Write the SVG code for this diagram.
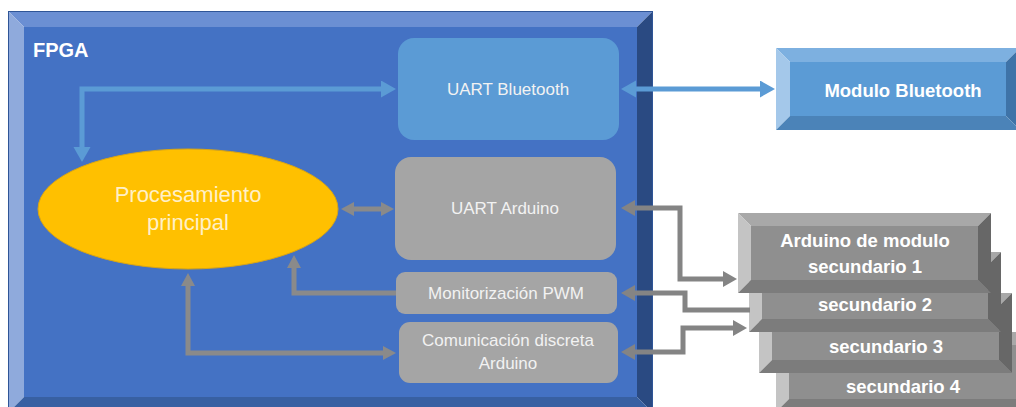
<svg xmlns="http://www.w3.org/2000/svg" width="1016" height="407" viewBox="0 0 1016 407">
<style>
  text { font-family: "Liberation Sans", Arial, sans-serif; }
  .lbl { fill: #F2F2F2; font-size: 17px; text-anchor: middle; }
  .bold { font-weight: bold; fill: #FFFFFF; text-anchor: middle; }
  .gT { fill: #A8A8A8; } .gL { fill: #C4C4C4; } .gR { fill: #676767; } .gB { fill: #7C7C7C; } .gF { fill: #8F8F8F; }
  .blueLine { fill: none; stroke: #5B9BD5; stroke-width: 5; }
  .grayLine { fill: none; stroke: #8A8A8A; stroke-width: 5; }
  .grayLine2 { fill: none; stroke: #848484; stroke-width: 5; }
</style>
<defs>
  <marker id="mBlue" markerUnits="userSpaceOnUse" markerWidth="17" markerHeight="18" refX="1" refY="8.5" orient="auto-start-reverse">
    <path d="M0,0 L15,8.5 L0,17 z" fill="#5B9BD5"/>
  </marker>
  <marker id="mGray" markerUnits="userSpaceOnUse" markerWidth="15" markerHeight="15" refX="1" refY="7" orient="auto-start-reverse">
    <path d="M0,0 L13,7 L0,14 z" fill="#8A8A8A"/>
  </marker>
  <marker id="mGray2" markerUnits="userSpaceOnUse" markerWidth="16" markerHeight="17" refX="1" refY="8" orient="auto-start-reverse">
    <path d="M0,0 L14,8 L0,16 z" fill="#848484"/>
  </marker>
</defs>

<g id="fpga">
  <rect x="24" y="27" width="613" height="370" fill="#4472C4"/>
  <polygon points="8,11 653,11 637,27 24,27" fill="#6B8FD3"/>
  <polygon points="8,11 24,27 24,397 8,413" fill="#8FAADC"/>
  <polygon points="653,11 653,413 637,397 637,27" fill="#2A4A82"/>
  <polygon points="8,413 24,397 637,397 653,413" fill="#3860A2"/>
  <rect x="8.5" y="11.5" width="644" height="402" fill="none" stroke="#2F5597" stroke-width="1"/>
  <text x="33" y="57" class="bold" style="text-anchor:start;font-size:20px">FPGA</text>
</g>

<g id="uart-bluetooth">
  <rect x="398" y="38" width="221" height="102" rx="16" fill="#5B9BD5"/>
  <text x="508" y="95" class="lbl">UART Bluetooth</text>
</g>

<g id="uart-arduino">
  <rect x="395" y="157" width="221" height="103" rx="16" fill="#A5A5A5"/>
  <text x="505" y="214" class="lbl">UART Arduino</text>
</g>

<g id="pwm">
  <rect x="396" y="272" width="221" height="42" rx="9" fill="#A5A5A5"/>
  <text x="506" y="299" class="lbl">Monitorización PWM</text>
</g>

<g id="com-discreta">
  <rect x="399" y="322" width="219" height="61" rx="11" fill="#A5A5A5"/>
  <text x="508" y="346" class="lbl">Comunicación discreta</text>
  <text x="508" y="369" class="lbl">Arduino</text>
</g>

<g id="procesamiento">
  <ellipse cx="188" cy="209" rx="150" ry="60" fill="#FFC000" stroke="#D9A514" stroke-width="1"/>
  <text x="188" y="202" style="font-size:22px;fill:#FFF0C8;text-anchor:middle">Procesamiento</text>
  <text x="188" y="230" style="font-size:22px;fill:#FFF0C8;text-anchor:middle">principal</text>
</g>

<g id="modulo-bluetooth">
  <rect x="790" y="62" width="216" height="54" fill="#5B9BD5"/>
  <polygon points="776,48 1020,48 1006,62 790,62" fill="#7DB0E0"/>
  <polygon points="776,48 790,62 790,116 776,130" fill="#A4C8EA"/>
  <polygon points="1020,48 1020,130 1006,116 1006,62" fill="#3E73A8"/>
  <polygon points="776,130 790,116 1006,116 1020,130" fill="#4B83B8"/>
  <text x="903" y="97" class="bold" style="font-size:18.5px">Modulo Bluetooth</text>
</g>

<g id="arduino-4">
  <rect x="789" y="345" width="228" height="54" class="gF"/>
  <polygon points="776,332 1030,332 1017,345 789,345" class="gT"/>
  <polygon points="776,332 789,345 789,399 776,412" class="gL"/>
  <polygon points="1030,332 1030,412 1017,399 1017,345" class="gR"/>
  <polygon points="776,412 789,399 1017,399 1030,412" class="gB"/>
  <text x="903" y="393" class="bold" style="font-size:18.5px">secundario 4</text>
</g>

<g id="arduino-3">
  <rect x="772" y="306" width="227" height="54" class="gF"/>
  <polygon points="759,293 1012,293 999,306 772,306" class="gT"/>
  <polygon points="759,293 772,306 772,360 759,373" class="gL"/>
  <polygon points="1012,293 1012,373 999,360 999,306" class="gR"/>
  <polygon points="759,373 772,360 999,360 1012,373" class="gB"/>
  <text x="886" y="353" class="bold" style="font-size:18.5px">secundario 3</text>
</g>

<g id="arduino-2">
  <rect x="762" y="265" width="226" height="54" class="gF"/>
  <polygon points="749,252 1001,252 988,265 762,265" class="gT"/>
  <polygon points="749,252 762,265 762,319 749,332" class="gL"/>
  <polygon points="1001,252 1001,332 988,319 988,265" class="gR"/>
  <polygon points="749,332 762,319 988,319 1001,332" class="gB"/>
  <text x="875" y="311" class="bold" style="font-size:18.5px">secundario 2</text>
</g>

<g id="arduino-1">
  <rect x="751" y="226" width="227" height="54" class="gF"/>
  <polygon points="738,213 991,213 978,226 751,226" class="gT"/>
  <polygon points="738,213 751,226 751,280 738,293" class="gL"/>
  <polygon points="991,213 991,293 978,280 978,226" class="gR"/>
  <polygon points="738,293 751,280 978,280 991,293" class="gB"/>
  <text x="865" y="247" class="bold" style="font-size:18.5px">Arduino de modulo</text>
  <text x="865" y="273" class="bold" style="font-size:18.5px">secundario 1</text>
</g>

<g id="connectors">
  <path d="M82,148 V89 H382" class="blueLine" marker-start="url(#mBlue)" marker-end="url(#mBlue)"/>
  <path d="M635,89 H761" class="blueLine" marker-start="url(#mBlue)" marker-end="url(#mBlue)"/>
  <path d="M353,209 H382" class="grayLine" marker-start="url(#mGray)" marker-end="url(#mGray)"/>
  <path d="M396,293 H294 V267" class="grayLine" marker-end="url(#mGray)"/>
  <path d="M188,285 V353 H384" class="grayLine" marker-start="url(#mGray)" marker-end="url(#mGray)"/>
  <path d="M634,208 H680 V279 H724" class="grayLine2" marker-start="url(#mGray2)" marker-end="url(#mGray2)"/>
  <path d="M634,293 H685 V310 H750" class="grayLine2" marker-start="url(#mGray2)"/>
  <path d="M634,352 H683 V328 H734" class="grayLine2" marker-start="url(#mGray2)" marker-end="url(#mGray2)"/>
</g>
</svg>
